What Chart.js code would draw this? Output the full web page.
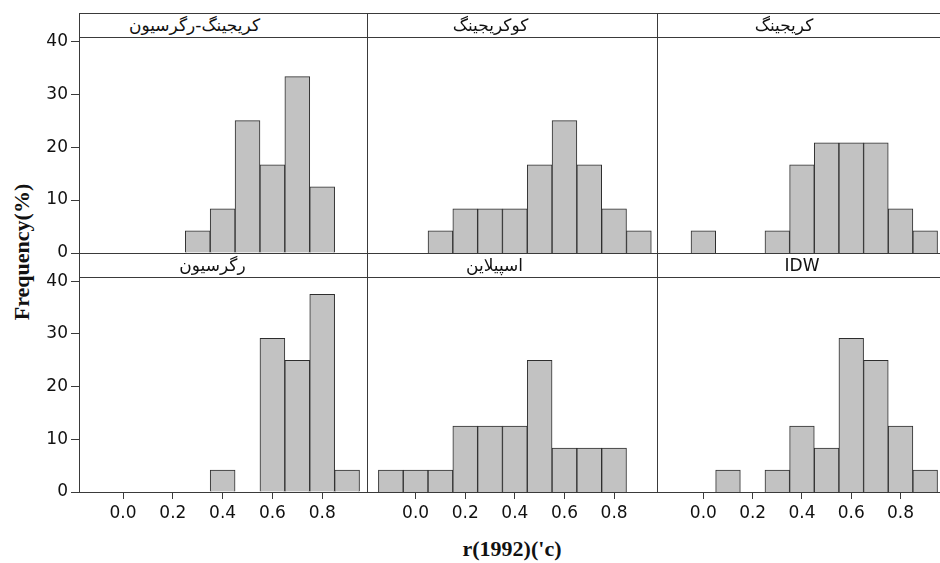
<!DOCTYPE html>
<html lang="fa">
<head>
  <meta charset="UTF-8">
  <title>Frequency - r(1992)</title>
  <style>
    body {
      margin: 0;
      background: #fff;
    }
    #wrap {
      position: relative;
      width: 940px;
      height: 563px;
      overflow: hidden;
      background: #fff;
    }
    #wrap canvas {
      position: absolute;
      left: 0;
      top: 0;
    }
    .strip {
      position: absolute;
      box-sizing: border-box;
      height: 25px;
      border: 1px solid #3a3a3a;
      font: 17px "DejaVu Sans", sans-serif;
      line-height: 23px;
      text-align: center;
      color: #111;
      white-space: nowrap;
    }
    .axis-title {
      position: absolute;
      font: bold 22px "Liberation Serif", "Times New Roman", serif;
      color: #111;
      white-space: nowrap;
      transform: translate(-50%, -50%);
    }
  </style>
</head>
<body>
<div id="wrap">
  <div class="axis-title" style="left:22px; top:252px; transform: translate(-50%, -50%) rotate(-90deg);">Frequency(%)</div>
  <div class="axis-title" style="left:512px; top:549px;">r(1992)('c)</div>
</div>

<script src="https://cdn.jsdelivr.net/npm/chart.js"></script>
<script>
  // bin centres (width 0.1) and percentages per method
  const bins = [-0.1, 0.0, 0.1, 0.2, 0.3, 0.4, 0.5, 0.6, 0.7, 0.8, 0.9];
  const krigingRegression = [0, 0, 0, 0, 4.17, 8.33, 25, 16.67, 33.33, 12.5, 0];
  const cokriging = [0, 0, 4.17, 8.33, 8.33, 8.33, 16.67, 25, 16.67, 8.33, 4.17];
  const kriging = [0, 4.17, 0, 0, 4.17, 16.67, 20.83, 20.83, 20.83, 8.33, 4.17];
  const regression = [0, 0, 0, 0, 0, 4.17, 0, 29.17, 25, 37.5, 4.17];
  const spline = [4.17, 4.17, 4.17, 12.5, 12.5, 12.5, 25, 8.33, 8.33, 8.33, 0];
  const idw = [0, 0, 4.17, 0, 4.17, 12.5, 8.33, 29.17, 25, 12.5, 4.17];

  const rTicks = [0.0, 0.2, 0.4, 0.6, 0.8];
  const freqTicks = [0, 10, 20, 30, 40];

  const panels = [
    { title: 'کریجینگ-رگرسیون', values: krigingRegression, row: 0, col: 0, shift: -29 },
    { title: 'کوکریجینگ', values: cokriging, row: 0, col: 1, shift: -22 },
    { title: 'کریجینگ', values: kriging, row: 0, col: 2, shift: -15 },
    { title: 'رگرسیون', values: regression, row: 1, col: 0, shift: -11 },
    { title: 'اسپیلاین', values: spline, row: 1, col: 1, shift: -18 },
    { title: 'IDW', values: idw, row: 1, col: 2, shift: 3 }
  ];

  // panel layout (pixels)
  const W = 940, H = 563;
  const colLeft = [79, 367, 657];
  const colRight = [367, 657, 940];
  const colRange = [[-0.177, 0.98], [-0.196, 0.973], [-0.188, 0.96]];
  const rowTop = [37, 277];
  const rowBottom = [253, 492];
  const stripH = 24;
  const yAxisW = 60;
  const xAxisH = 40;

  const tickFont = { family: 'DejaVu Sans', size: 17 };

  const framePlugin = {
    id: 'panelFrame',
    afterDatasetsDraw(chart) {
      const { ctx, chartArea: a } = chart;
      ctx.save();
      ctx.strokeStyle = '#3a3a3a';
      ctx.lineWidth = 1;
      ctx.strokeRect(a.left + 0.5, a.top + 0.5, a.right - a.left, a.bottom - a.top);
      ctx.restore();
    }
  };

  const wrap = document.getElementById('wrap');

  panels.forEach(p => {
    // header strip
    const strip = document.createElement('div');
    strip.className = 'strip';
    strip.style.left = colLeft[p.col] + 'px';
    strip.style.top = (rowTop[p.row] - stripH) + 'px';
    strip.style.width = (colRight[p.col] - colLeft[p.col] + 1) + 'px';
    const span = document.createElement('span');
    span.textContent = p.title;
    span.style.position = 'relative';
    span.style.left = p.shift + 'px';
    if (p.title !== 'IDW') span.dir = 'rtl';
    strip.appendChild(span);
    wrap.appendChild(strip);

    const canvas = document.createElement('canvas');
    canvas.width = W;
    canvas.height = H;
    wrap.appendChild(canvas);

    const showY = p.col === 0;
    const showX = p.row === 1;

    new Chart(canvas.getContext('2d'), {
      type: 'bar',
      data: {
        datasets: [{
          data: bins.map((b, i) => ({ x: b, y: p.values[i] })),
          backgroundColor: '#c2c2c2',
          borderColor: '#2e2e2e',
          borderWidth: 1,
          barPercentage: 1,
          categoryPercentage: 1
        }]
      },
      options: {
        responsive: false,
        animation: false,
        devicePixelRatio: 1,
        layout: {
          padding: {
            left: colLeft[p.col] - (showY ? yAxisW : 0),
            right: W - colRight[p.col],
            top: rowTop[p.row],
            bottom: H - rowBottom[p.row] - (showX ? xAxisH : 0)
          }
        },
        plugins: {
          legend: { display: false },
          tooltip: { enabled: false }
        },
        scales: {
          x: {
            type: 'linear',
            offset: false,
            min: colRange[p.col][0],
            max: colRange[p.col][1],
            display: showX,
            afterBuildTicks: s => { s.ticks = rTicks.map(v => ({ value: v })); },
            afterFit: s => { s.height = showX ? xAxisH : 0; },
            grid: { offset: false, drawOnChartArea: false, tickLength: 7, color: '#3a3a3a' },
            border: { display: false },
            ticks: {
              padding: 4,
              color: '#111',
              font: tickFont,
              maxRotation: 0,
              autoSkip: false,
              callback: v => Number(v).toFixed(1)
            }
          },
          y: {
            min: 0,
            max: 40.8,
            display: showY,
            afterBuildTicks: s => { s.ticks = freqTicks.map(v => ({ value: v })); },
            afterFit: s => { s.width = showY ? yAxisW : 0; },
            grid: { drawOnChartArea: false, tickLength: 8, color: '#3a3a3a' },
            border: { display: false },
            ticks: { padding: 3, color: '#111', font: tickFont }
          }
        }
      },
      plugins: [framePlugin]
    });
  });
</script>
</body>
</html>
